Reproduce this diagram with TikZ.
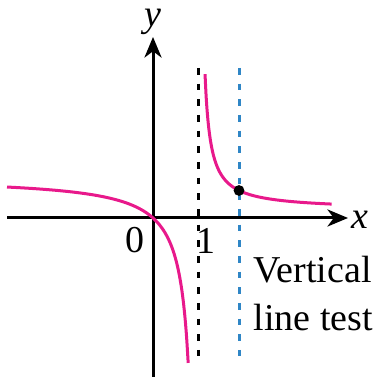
\documentclass[tikz,border=0pt]{standalone}
\usepackage{fontspec}
\setmainfont{Liberation Serif}
\usepackage{tikz}
\usetikzlibrary{arrows.meta}
\definecolor{vltPink}{HTML}{E8198B}
\definecolor{vltBlue}{HTML}{2F86C6}
\tikzset{
  vlt/axis/.style  = {-{Stealth[length=6.5pt, width=5.4pt, inset=2pt]}, line width=0.95pt, draw=black},
  vlt/curve/.style = {line width=0.95pt, draw=vltPink},
  vlt/asym/.style  = {line width=0.95pt, draw=black, dash pattern=on 2.1pt off 2.85pt},
  vlt/test/.style  = {vlt/asym, draw=vltBlue},
  vlt/dot/.style   = {circle, fill=black, inner sep=0pt, minimum size=3.4pt},
  vlt/label/.style = {inner sep=0pt, font=\fontsize{12}{14.9}\selectfont},
}

\begin{document}
\begin{tikzpicture}[x=0.5cm, y=0.5cm]
  \useasboundingbox (-3.4,-3.533) rectangle (5.044,4.844);
  % axes
  \coordinate (xl) at (-3.244,0);
  \coordinate (xr) at (4.333,0);
  \coordinate (yb) at (0,-3.6);
  \coordinate (yt) at (0,4.022);
  \draw[vlt/axis] (xl) -- (xr);
  \draw[vlt/axis] (yb) -- (yt);
  % asymptote and test line
  \coordinate (at) at (1,3.333);
  \coordinate (ab) at (1,-3.267);
  \coordinate (tt) at (1.911,3.333);
  \coordinate (tb) at (1.911,-3.267);
  \draw[vlt/asym] (at) -- (ab);
  \draw[vlt/test] (tt) -- (tb);
  % the two branches
  \draw[vlt/curve] plot[domain=-3.244:0.782, samples=120, smooth] (\x, {0.9*\x/(\x-1)});
  \draw[vlt/curve] plot[domain=1.156:3.971, samples=120, smooth] (\x, {0.18+0.38/(\x-1.03)});
  \node[vlt/dot] (hit) at (1.911,{0.18+0.38/0.881}) {};
  % labels
  \node[vlt/label] (xlab) at (4.6,-0.044) {\textit{x}};
  \node[vlt/label] (ylab) at (0,4.356) {\textit{y}};
  \node[vlt/label] (zero) at (-0.411,-0.5) {0};
  \node[vlt/label] (one) at (1.178,-0.5) {1};
  \node[vlt/label, align=left, anchor=base west] (test) at (2.222,-2.489)
        {Vertical\\line test};
\end{tikzpicture}
\end{document}
